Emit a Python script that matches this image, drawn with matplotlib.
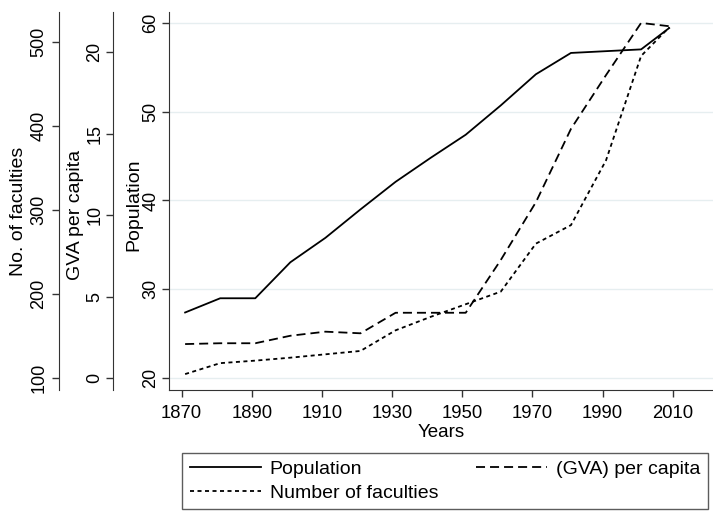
#Import useful packages
import numpy as np
import matplotlib
matplotlib.use("Agg")
import matplotlib.pyplot as plt

#Values
years = [1871, 1881, 1891, 1901, 1911, 1921, 1931, 1941, 1951, 1961, 1971, 1981, 1991, 2001, 2009]
population = [27.4, 29.0, 29.0, 33.05, 35.8, 39.0, 42.1, 44.8, 47.4, 50.7, 54.2, 56.6, 56.8, 57.0, 59.4]
gva_per_capita = [2.10, 2.15, 2.15, 2.61, 2.86, 2.76, 4.02, 4.02, 4.02, 7.26, 10.8, 15.3, 18.6, 21.8, 21.6]
faculties = [105, 118, 121, 124.5, 128.5, 132.5, 157, 173, 188, 203, 260, 282, 359, 483, 517]

year_ticks = [1870, 1890, 1910, 1930, 1950, 1970, 1990, 2010]
pop_ticks = [20, 30, 40, 50, 60]
gva_ticks = [0, 5, 10, 15, 20]
fac_ticks = [100, 200, 300, 400, 500]

plt.rcParams['font.family'] = ['Liberation Sans', 'DejaVu Sans']
plt.rcParams['lines.scale_dashes'] = False

fig = plt.figure(figsize=(7.13, 5.11), dpi=100)
ax = fig.add_axes([0.2375, 0.2368, 0.7625, 0.7403])

#Population on the main axis
ax.plot(years, population, color='black', lw=1.3, label='Population')
ax.set_xlim(1866.5, 2021.5)
ax.set_ylim(18.68, 61.24)
ax.set_xticks(year_ticks)
ax.set_yticks(pop_ticks)
ax.grid(axis='y', color='#e6eef0', lw=1)
ax.set_axisbelow(True)
for s in ['top', 'right']:
    ax.spines[s].set_visible(False)

#GVA per capita on a second axis, spine moved to the left
ax2 = ax.twinx()
ax2.plot(years, gva_per_capita, color='black', lw=1.3, dashes=(6.5, 3.6), label='(GVA) per capita')
ax2.set_ylim(-0.718, 22.49)
ax2.set_yticks(gva_ticks)

#Number of faculties on a third axis
ax3 = ax.twinx()
ax3.plot(years, faculties, color='black', lw=1.3, dashes=(2.9, 2.5), label='Number of faculties')
ax3.set_ylim(86.1, 535.6)
ax3.set_yticks(fac_ticks)

for a, pos in [(ax2, -0.103), (ax3, -0.2023)]:
    a.yaxis.set_ticks_position('left')
    a.yaxis.set_label_position('left')
    a.spines['left'].set_position(('axes', pos))
    a.spines['left'].set_visible(True)
    for s in ['top', 'right', 'bottom']:
        a.spines[s].set_visible(False)
    a.patch.set_visible(False)

for a in [ax, ax2, ax3]:
    a.spines['left'].set_color('#333333')
    a.tick_params(axis='y', length=5, width=1, color='#333333', pad=2, labelsize=13)
    plt.setp(a.get_yticklabels(), rotation=90, va='center')
ax3.tick_params(axis='y', pad=3.5)
ax.spines['bottom'].set_color('#333333')
ax.tick_params(axis='x', length=5, width=1, color='#333333', pad=5.5, labelsize=13.3)

#Axis titles
ax.set_xlabel('Years', fontsize=13.5, labelpad=1.5)
ax.set_ylabel('Population', fontsize=14, va='center')
ax.yaxis.set_label_coords(-0.065, 0.489)
ax2.set_ylabel('GVA per capita', fontsize=14, va='center')
ax2.yaxis.set_label_coords(-0.1725, 0.4626)
ax3.set_ylabel('No. of faculties', fontsize=14, va='center')
ax3.yaxis.set_label_coords(-0.2775, 0.473)

#Legend below the plot, cut off by the bottom edge like the original
h1, l1 = ax.get_legend_handles_labels()
h2, l2 = ax2.get_legend_handles_labels()
h3, l3 = ax3.get_legend_handles_labels()
leg = fig.legend(h1 + h3 + h2, l1 + l3 + l2, loc='upper left', ncol=2,
                 bbox_to_anchor=(0.2553, -0.2, 526 / 713, 0.3141), mode='expand',
                 borderaxespad=0, fontsize=14, handlelength=3.65, handletextpad=0.45,
                 labelspacing=0.3, fancybox=False, edgecolor='#333333')
leg.get_frame().set_linewidth(1)

fig.savefig('out.png', dpi=100)
